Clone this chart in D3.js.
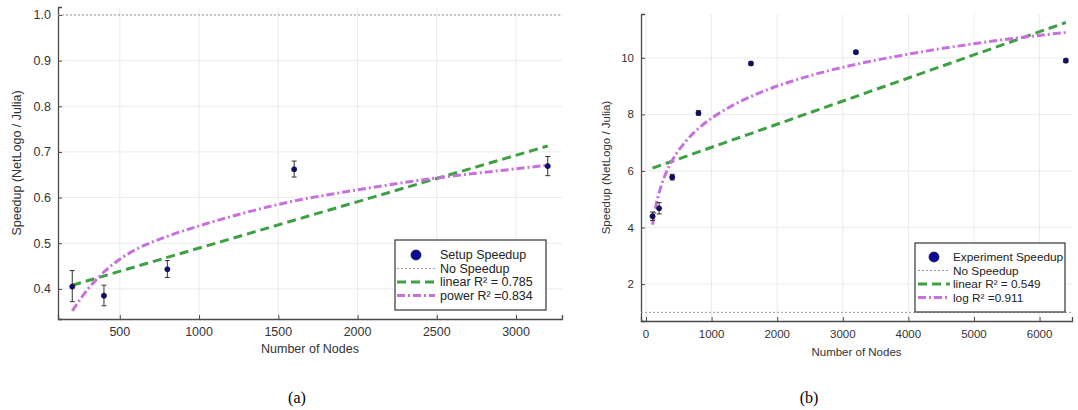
<!DOCTYPE html>
<html>
<head>
<meta charset="utf-8">
<script src="https://cdn.jsdelivr.net/npm/d3@7"></script>
<style>
  html, body { margin: 0; padding: 0; background: #fff; }
  svg { display: block; }
</style>
</head>
<body>
<svg id="chart" width="1078" height="410"></svg>
<script>
// ---------- Data ----------
// Panel (a): setup speedup
const setupNodes   = [200, 400, 800, 1600, 3200];
const setupSpeedup = [0.405, 0.385, 0.443, 0.662, 0.669];
const setupLow     = [0.372, 0.363, 0.425, 0.645, 0.648];
const setupHigh    = [0.440, 0.408, 0.462, 0.680, 0.690];
const setupLinearX = [200, 3200];
const setupLinearY = [0.408, 0.713];
const setupPowerX  = [200, 300, 400, 500, 600, 800, 1000, 1250, 1500, 2000, 2500, 3000, 3200];
const setupPowerY  = [0.352, 0.400, 0.437, 0.465, 0.486, 0.515, 0.538, 0.563, 0.585, 0.617, 0.643, 0.663, 0.671];
const setupXTicks  = [500, 1000, 1500, 2000, 2500, 3000];
const setupYTicks  = [0.4, 0.5, 0.6, 0.7, 0.8, 0.9, 1.0];
const setupLegend  = ["Setup Speedup", "No Speedup", "linear R\u00B2 = 0.785", "power R\u00B2 =0.834"];

// Panel (b): experiment speedup
const expNodes   = [100, 200, 400, 800, 1600, 3200, 6400];
const expSpeedup = [4.40, 4.68, 5.78, 8.05, 9.80, 10.20, 9.90];
const expLow     = [4.25, 4.48, 5.68, 7.97, 9.74, 10.15, 9.84];
const expHigh    = [4.55, 4.88, 5.88, 8.13, 9.86, 10.25, 9.96];
const expLinearX = [100, 6400];
const expLinearY = [6.10, 11.25];
const expLogX    = [100, 150, 200, 300, 400, 600, 800, 1200, 1600, 2400, 3200, 4000, 5000, 6400];
const expLogY    = [4.10, 4.76, 5.23, 5.90, 6.37, 7.03, 7.50, 8.16, 8.63, 9.30, 9.77, 10.13, 10.50, 10.90];
const expXTicks  = [0, 1000, 2000, 3000, 4000, 5000, 6000];
const expYTicks  = [2, 4, 6, 8, 10];
const expLegend  = ["Experiment Speedup", "No Speedup", "linear R\u00B2 = 0.549", "log R\u00B2 =0.911"];

const noSpeedup = 1;
const axisTitleX = "Number of Nodes";
const axisTitleY = "Speedup (NetLogo / Julia)";
const captions = ["(a)", "(b)"];

// ---------- Styles ----------
const GREEN = "#3e9f45";
const PURPLE = "#c771dd";
const NAVY = "#0c0c7a";
const AXIS = "#4a4a4a";
const GRID = "#ebebeb";
const FONT = "'Liberation Sans', Arial, sans-serif";

const svg = d3.select("#chart");

function drawPanel(p) {
  const g = svg.append("g");
  const x = d3.scaleLinear().domain(p.xDomain).range([p.left, p.right]);
  const y = d3.scaleLinear().domain(p.yDomain).range([p.bottom, p.top]);

  // grid
  g.append("g").selectAll("line").data(p.xTicks).join("line")
    .attr("x1", d => x(d)).attr("x2", d => x(d))
    .attr("y1", p.top).attr("y2", p.bottom)
    .attr("stroke", GRID).attr("stroke-width", 1);
  g.append("g").selectAll("line").data(p.yTicks).join("line")
    .attr("y1", d => y(d)).attr("y2", d => y(d))
    .attr("x1", p.left).attr("x2", p.right)
    .attr("stroke", GRID).attr("stroke-width", 1);

  // axes (ticks pointing inward)
  const xAxis = d3.axisTop(x).tickValues(p.xTicks).tickSize(4).tickFormat("");
  const yAxis = d3.axisRight(y).tickValues(p.yTicks).tickSize(4).tickFormat("");
  const gx = g.append("g").attr("transform", `translate(0,${p.bottom})`).call(xAxis);
  const gy = g.append("g").attr("transform", `translate(${p.left},0)`).call(yAxis);
  [gx, gy].forEach(a => {
    a.select(".domain").attr("stroke", AXIS).attr("stroke-width", 1.3);
    a.selectAll(".tick line").attr("stroke", AXIS).attr("stroke-width", 1);
  });
  // tick labels
  g.append("g").selectAll("text").data(p.xTicks).join("text")
    .attr("x", d => x(d)).attr("y", p.bottom + 17)
    .attr("text-anchor", "middle").attr("font-family", FONT)
    .attr("font-size", p.tickFont).attr("fill", "#333")
    .text(d => d3.format("d")(d));
  g.append("g").selectAll("text").data(p.yTicks).join("text")
    .attr("x", p.left - 7).attr("y", d => y(d)).attr("dy", "0.35em")
    .attr("text-anchor", "end").attr("font-family", FONT)
    .attr("font-size", p.tickFont).attr("fill", "#333")
    .text(d => p.yFmt(d));

  // axis titles
  g.append("text").attr("x", (p.left + p.right) / 2).attr("y", p.xTitleY)
    .attr("text-anchor", "middle").attr("font-family", FONT)
    .attr("font-size", p.titleFont).attr("fill", "#333").text(axisTitleX);
  g.append("text")
    .attr("transform", `translate(${p.yTitleX},${(p.top + p.bottom) / 2}) rotate(-90)`)
    .attr("text-anchor", "middle").attr("dy", "0.35em").attr("font-family", FONT)
    .attr("font-size", p.titleFont).attr("fill", "#333").text(axisTitleY);

  // no speedup line
  g.append("line").attr("x1", p.left).attr("x2", p.right)
    .attr("y1", y(noSpeedup)).attr("y2", y(noSpeedup))
    .attr("stroke", "#9a9a9a").attr("stroke-width", 1).attr("stroke-dasharray", "2,2");

  // fit lines
  const lin = d3.line().x(d => x(d[0])).y(d => y(d[1]));
  const curve = d3.line().x(d => x(d[0])).y(d => y(d[1])).curve(d3.curveMonotoneX);
  g.append("path").datum(p.linX.map((v, i) => [v, p.linY[i]]))
    .attr("d", lin).attr("fill", "none").attr("stroke", GREEN)
    .attr("stroke-width", 3).attr("stroke-dasharray", "9,5");
  g.append("path").datum(p.fitX.map((v, i) => [v, p.fitY[i]]))
    .attr("d", curve).attr("fill", "none").attr("stroke", PURPLE)
    .attr("stroke-width", 3).attr("stroke-dasharray", "8,3,2,3");

  // error bars
  const eb = g.append("g").selectAll("g").data(p.pts.map((v, i) => ({x: v, v: p.vals[i], lo: p.lo[i], hi: p.hi[i]}))).join("g");
  eb.append("line").attr("x1", d => x(d.x)).attr("x2", d => x(d.x))
    .attr("y1", d => y(d.lo)).attr("y2", d => y(d.hi))
    .attr("stroke", "#333").attr("stroke-width", 1);
  ["lo", "hi"].forEach(k => {
    eb.append("line").attr("x1", d => x(d.x) - 2.5).attr("x2", d => x(d.x) + 2.5)
      .attr("y1", d => y(d[k])).attr("y2", d => y(d[k]))
      .attr("stroke", "#333").attr("stroke-width", 1);
  });
  eb.append("circle").attr("cx", d => x(d.x)).attr("cy", d => y(d.v)).attr("r", 2.6)
    .attr("fill", NAVY).attr("stroke", "#111").attr("stroke-width", 0.6);

  // legend
  const L = p.legend;
  const lg = g.append("g");
  lg.append("rect").attr("x", L.x).attr("y", L.y).attr("width", L.w).attr("height", L.h)
    .attr("fill", "#fff").attr("stroke", "#444").attr("stroke-width", 1.3);
  const rows = L.rows;
  lg.append("circle").attr("cx", (L.s0 + L.s1) / 2).attr("cy", rows[0]).attr("r", 5)
    .attr("fill", "#0a0a9a").attr("stroke", "#111").attr("stroke-width", 0.7);
  lg.append("line").attr("x1", L.s0).attr("x2", L.s1).attr("y1", rows[1]).attr("y2", rows[1])
    .attr("stroke", "#9a9a9a").attr("stroke-width", 1).attr("stroke-dasharray", "2,2");
  lg.append("line").attr("x1", L.s0).attr("x2", L.s1).attr("y1", rows[2]).attr("y2", rows[2])
    .attr("stroke", GREEN).attr("stroke-width", 3).attr("stroke-dasharray", "9,5");
  lg.append("line").attr("x1", L.s0).attr("x2", L.s1).attr("y1", rows[3]).attr("y2", rows[3])
    .attr("stroke", PURPLE).attr("stroke-width", 3).attr("stroke-dasharray", "8,3,2,3");
  lg.selectAll("text").data(p.legendLabels).join("text")
    .attr("x", L.tx).attr("y", (d, i) => rows[i]).attr("dy", "0.35em")
    .attr("font-family", FONT).attr("font-size", p.legendFont).attr("fill", "#222")
    .text(d => d);

  // caption
  svg.append("text").attr("x", p.capX).attr("y", 403).attr("text-anchor", "middle")
    .attr("font-family", "'Liberation Serif', 'Times New Roman', serif")
    .attr("font-size", 16).attr("fill", "#000").text(p.caption);
}

drawPanel({
  left: 58, right: 562, top: 7, bottom: 319,
  xDomain: [110, 3290], yDomain: [0.334, 1.0175],
  xTicks: setupXTicks, yTicks: setupYTicks, yFmt: d3.format(".1f"),
  tickFont: 12.5, titleFont: 12.5, legendFont: 12.5,
  xTitleY: 353, yTitleX: 17,
  pts: setupNodes, vals: setupSpeedup, lo: setupLow, hi: setupHigh,
  linX: setupLinearX, linY: setupLinearY, fitX: setupPowerX, fitY: setupPowerY,
  legend: {x: 395, y: 240, w: 151, h: 70, rows: [255, 268.5, 282, 295.5], s0: 397, s1: 435, tx: 440},
  legendLabels: setupLegend, caption: captions[0], capX: 297
});

drawPanel({
  left: 641, right: 1072, top: 14, bottom: 321,
  xDomain: [-76, 6494], yDomain: [0.694, 11.55],
  xTicks: expXTicks, yTicks: expYTicks, yFmt: d3.format("d"),
  tickFont: 11.5, titleFont: 11.5, legendFont: 11.8,
  xTitleY: 356, yTitleX: 606,
  pts: expNodes, vals: expSpeedup, lo: expLow, hi: expHigh,
  linX: expLinearX, linY: expLinearY, fitX: expLogX, fitY: expLogY,
  legend: {x: 915, y: 243, w: 150, h: 69, rows: [257, 270.5, 284, 297.5], s0: 918, s1: 950, tx: 953},
  legendLabels: expLegend, caption: captions[1], capX: 809
});
</script>
</body>
</html>
